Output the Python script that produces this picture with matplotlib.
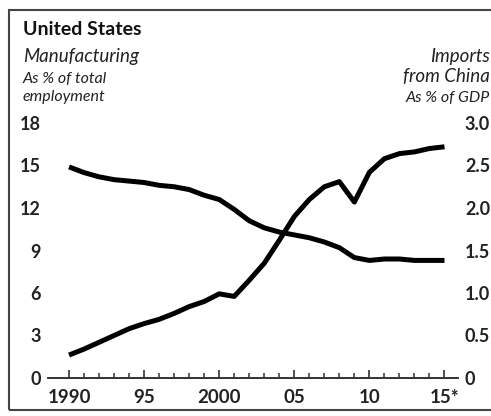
import numpy as np
from matplotlib import pyplot as plt
from matplotlib.patches import Rectangle

plt.rcParams['font.family'] = ['Lato', 'DejaVu Sans']

years = list(range(1990, 2016))
# manufacturing jobs, % of total employment (left scale)
manufacturing = [14.9, 14.5, 14.2, 14.0, 13.9, 13.8, 13.6, 13.5, 13.3, 12.9,
                 12.6, 11.9, 11.1, 10.6, 10.3, 10.1, 9.9, 9.6, 9.2, 8.5,
                 8.3, 8.4, 8.4, 8.3, 8.3, 8.3]
# imports from China, % of GDP (right scale)
imports_china = [0.27, 0.34, 0.42, 0.50, 0.58, 0.64, 0.69, 0.76, 0.84, 0.90,
                 0.99, 0.96, 1.15, 1.35, 1.62, 1.90, 2.10, 2.25, 2.31, 2.07,
                 2.42, 2.58, 2.64, 2.66, 2.70, 2.72]

left_ticks = [0, 3, 6, 9, 12, 15, 18]
right_ticks = [0, 0.5, 1.0, 1.5, 2.0, 2.5, 3.0]
right_labels = ['0', '0.5', '1.0', '1.5', '2.0', '2.5', '3.0']
year_ticks = [1990, 1995, 2000, 2005, 2010, 2015]
year_labels = ['1990', '95', '2000', '05', '10', '15*']

W, H = 491, 416
fig = plt.figure(figsize=(W / 100, H / 100), dpi=100)
ax = fig.add_axes([48 / W, 38 / H, 410 / W, 255 / H])
ax2 = ax.twinx()

ax.plot(years, manufacturing, color='black', lw=3.6,
        solid_capstyle='butt', solid_joinstyle='round')
ax2.plot(years, imports_china, color='black', lw=3.6,
         solid_capstyle='butt', solid_joinstyle='round')

ax.set_xlim(1988.6, 2015.9)
ax.set_ylim(0, 18)
ax2.set_ylim(0, 3.0)

ax.set_xticks(year_ticks)
ax.set_xticklabels(year_labels)
ax.set_xticks(years, minor=True)
ax.set_yticks(left_ticks)
ax2.set_yticks(right_ticks)
ax2.set_yticklabels(right_labels)

for a in (ax, ax2):
    for s in ['top', 'left', 'right']:
        a.spines[s].set_visible(False)
    a.spines['bottom'].set_color('#333333')
    a.spines['bottom'].set_linewidth(1.2)
    a.tick_params(axis='y', length=0, pad=5, labelsize=13)
    for lab in a.get_yticklabels():
        lab.set_fontweight('bold')
        lab.set_color('#222222')

ax.tick_params(axis='x', which='major', direction='in', length=6, width=1.2,
               color='#333333', pad=8, labelsize=13.5)
ax.tick_params(axis='x', which='minor', direction='in', length=3.5, width=1.1,
               color='#333333')
for lab in ax.get_xticklabels():
    lab.set_fontweight('bold')
    lab.set_color('#222222')

# titles and axis captions
fig.text(23 / W, 1 - 35 / H, 'United States', fontsize=14, fontweight='bold',
         va='baseline', color='#111111')
fig.text(23 / W, 1 - 62 / H, 'Manufacturing', fontsize=13.5, style='italic',
         va='baseline', color='#222222')
fig.text(23 / W, 1 - 83 / H, 'As % of total', fontsize=11.5, style='italic',
         va='baseline', color='#222222')
fig.text(23 / W, 1 - 101 / H, 'employment', fontsize=11.5, style='italic',
         va='baseline', color='#222222')
fig.text(490 / W, 1 - 62 / H, 'Imports', fontsize=13.5, style='italic',
         va='baseline', ha='right', color='#222222')
fig.text(490 / W, 1 - 82 / H, 'from China', fontsize=13.5, style='italic',
         va='baseline', ha='right', color='#222222')
fig.text(490 / W, 1 - 102 / H, 'As % of GDP', fontsize=11.5, style='italic',
         va='baseline', ha='right', color='#222222')

# outer frame
fig.patches.append(Rectangle((9 / W, 6 / H), 1, 1 - 16 / H, transform=fig.transFigure,
                             fill=False, lw=1.5, ec='#444444'))

plt.savefig('out.png', dpi=100)
